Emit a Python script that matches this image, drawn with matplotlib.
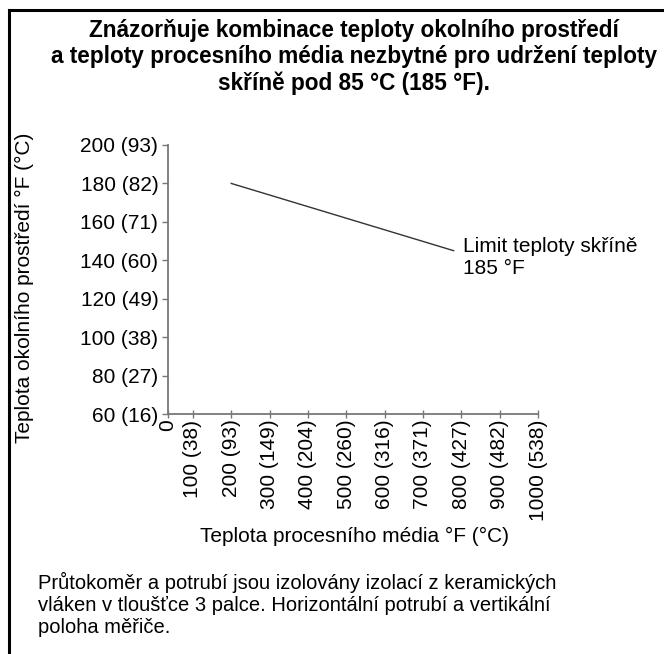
import numpy as np
import matplotlib
matplotlib.use("Agg")
import matplotlib.pyplot as plt
from matplotlib.lines import Line2D

plt.rcParams['font.family'] = ['Liberation Sans', 'DejaVu Sans']

# data
x_ticks = [0, 100, 200, 300, 400, 500, 600, 700, 800, 900, 1000]
x_labels = ['0', '100 (38)', '200 (93)', '300 (149)', '400 (204)', '500 (260)',
            '600 (316)', '700 (371)', '800 (427)', '900 (482)', '1000 (538)']
y_ticks = [60, 80, 100, 120, 140, 160, 180, 200]
y_labels = ['60 (16)', '80 (27)', '100 (38)', '120 (49)', '140 (60)',
            '160 (71)', '180 (82)', '200 (93)']
limit_x = [200, 780]
limit_y = [180, 145]
limit_label = 'Limit teploty skříně\n185 °F'

title = ('Znázorňuje kombinace teploty okolního prostředí\n'
         'a teploty procesního média nezbytné pro udržení teploty\n'
         'skříně pod 85 °C (185 °F).')
note = ('Průtokoměr a potrubí jsou izolovány izolací z keramických\n'
        'vláken v tloušťce 3 palce. Horizontální potrubí a vertikální\n'
        'poloha měřiče.')


# x axis is squeezed between 0 and 100
def fwd(x):
    x = np.asarray(x, dtype=float)
    return np.where(x < 100, x * 0.25, 25 + (x - 100) * 0.385)


def inv(u):
    u = np.asarray(u, dtype=float)
    return np.where(u < 25, u / 0.25, 100 + (u - 25) / 0.385)


fs = 15
fig = plt.figure(figsize=(6.64, 6.54), dpi=100)
ax = fig.add_axes([168 / 664, 1 - 414 / 654, 370 / 664, 269 / 654])
ax.set_xscale('function', functions=(fwd, inv))
ax.set_xlim(0, 1000)
ax.set_ylim(60, 200)

ax.plot(limit_x, limit_y, color='#333333', lw=1.0)

gray = '#777777'
for s in ['top', 'right']:
    ax.spines[s].set_visible(False)
for s in ['left', 'bottom']:
    ax.spines[s].set_color(gray)
    ax.spines[s].set_linewidth(1.3)

ax.set_xticks(x_ticks)
ax.set_xticklabels(x_labels, rotation=90, fontsize=fs)
ax.set_yticks(y_ticks)
ax.set_yticklabels(y_labels, fontsize=fs)
ax.minorticks_off()
ax.tick_params(axis='x', direction='inout', length=6, width=1, color=gray, pad=1)
ax.tick_params(axis='y', direction='out', length=4, width=1, color=gray, pad=3)

ax.annotate(limit_label, xy=(limit_x[-1], limit_y[-1]), xytext=(7, -5),
            textcoords='offset points', fontsize=fs, ha='left', va='center')

fig.text(354 / 664, 1 - 57 / 654, title, ha='center', va='center',
         fontsize=16.3, fontweight='bold', linespacing=1.2)
fig.text(24 / 664, 1 - 288 / 654, 'Teplota okolního prostředí °F (°C)',
         rotation=90, ha='center', va='center', fontsize=fs)
fig.text(354 / 664, 1 - 536 / 654, 'Teplota procesního média °F (°C)',
         ha='center', va='center', fontsize=fs)
fig.text(38 / 664, 1 - 604 / 654, note, ha='left', va='center',
         fontsize=14.5, linespacing=1.2)

# frame around the figure panel
fig.add_artist(Line2D([9 / 664, 9 / 664], [1 - 10 / 654, 0], color='black', lw=2.2))
fig.add_artist(Line2D([9 / 664, 1], [1 - 10 / 654, 1 - 10 / 654], color='black', lw=2.2))

fig.savefig('out.png', dpi=100)
